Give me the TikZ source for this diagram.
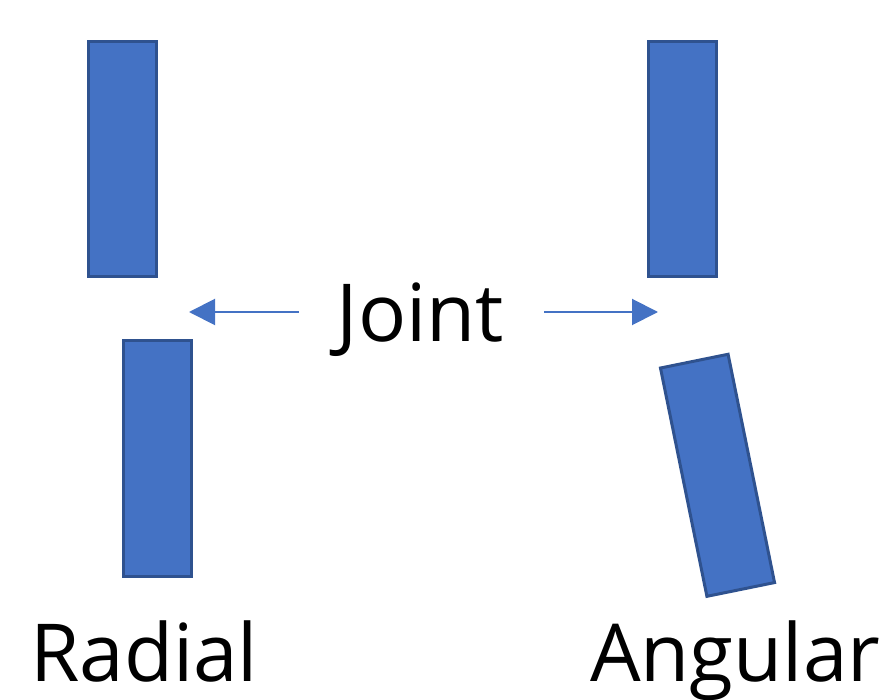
\documentclass[tikz,border=0pt]{standalone}
\usepackage{fontspec}
\setmainfont{Open Sans}
\usetikzlibrary{arrows.meta}
\definecolor{barfill}{HTML}{4472C4}
\definecolor{barline}{HTML}{2F528F}
\tikzset{
  bar/.style={draw=barline, fill=barfill, line width=3pt, minimum width=68pt, minimum height=235pt, inner sep=0pt, outer sep=0pt},
  arr/.style={draw=barfill, line width=2pt, -{Triangle[length=26pt,width=26pt]}},
  lbl/.style={font=\fontsize{80}{96}\selectfont, inner sep=0pt, anchor=base west}
}
\begin{document}
\begin{tikzpicture}[x=1pt,y=1pt]
\useasboundingbox (0,0) rectangle (886,-700);
\node[bar] (b1) at (122.5,-159) {};
\node[bar] (b2) at (157.5,-458.5) {};
\node[bar] (b3) at (682.5,-159) {};
\node[bar, minimum width=69pt, minimum height=233pt, rotate=11.5] (b4) at (717.5,-475.3) {};
\node[lbl] (joint) at (336.5,-342) {Joint};
\node[lbl] (radial) at (30,-681) {Radial};
\node[lbl] (angular) at (590,-681) {Angular};
\coordinate (ls) at (299,-312);
\coordinate (lt) at (189,-312);
\coordinate (rs) at (544,-312);
\coordinate (rt) at (658,-312);
\draw[arr] (ls) -- (lt);
\draw[arr] (rs) -- (rt);
\end{tikzpicture}
\end{document}
